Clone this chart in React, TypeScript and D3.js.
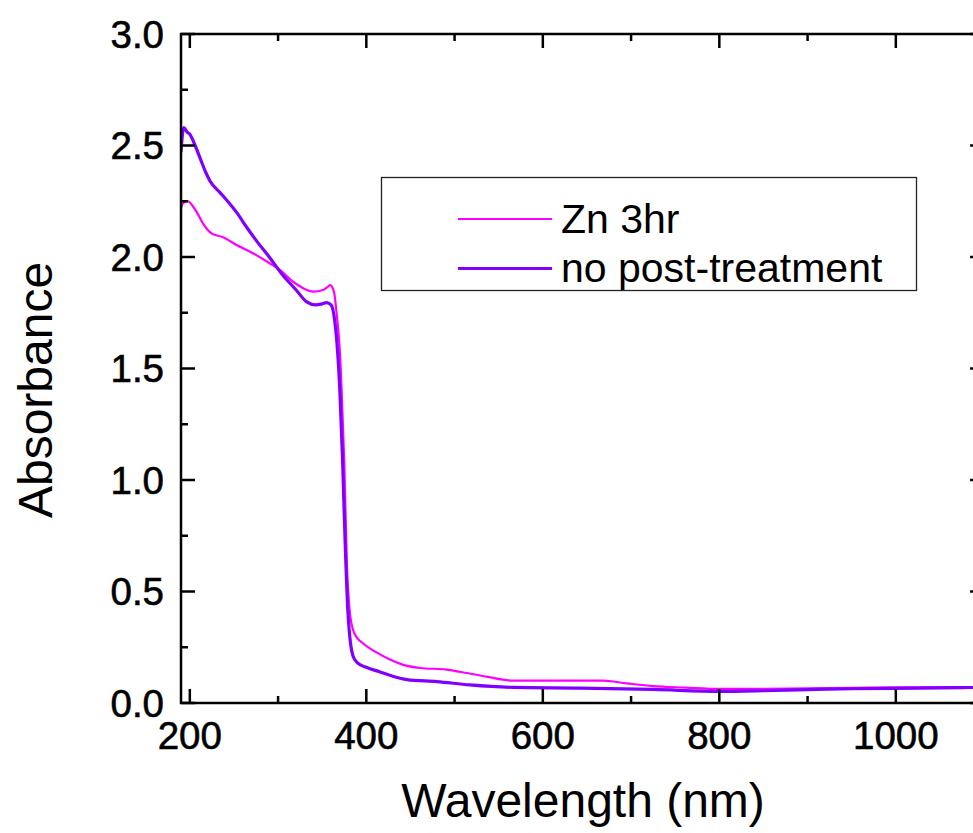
import React from "react";
import * as d3 from "d3";

const xTicksMajor = [200, 400, 600, 800, 1000];
const xTicksMinor = [300, 500, 700, 900, 1100];
const yTicksMajor = [0, 0.5, 1.0, 1.5, 2.0, 2.5, 3.0];
const yTicksMinor = [0.25, 0.75, 1.25, 1.75, 2.25, 2.75];

const seriesNames = ["Zn 3hr", "no post-treatment"];
const seriesColors = ["#FF00FF", "#8000FF"];

const znW = [190, 192, 198, 203, 208, 215, 225, 237, 253, 271, 290, 302, 317, 328, 340, 351, 356, 359, 362, 364, 366, 368, 370, 372, 375, 378, 381, 385, 390, 396, 404, 411, 425, 441, 461, 491, 506, 536, 567, 620, 668, 695, 725, 762, 800, 850, 900, 950, 1000, 1050, 1100];
const znA = [2.22, 2.24, 2.25, 2.23, 2.2, 2.15, 2.105, 2.09, 2.054, 2.018, 1.973, 1.942, 1.889, 1.861, 1.845, 1.852, 1.865, 1.874, 1.86, 1.83, 1.76, 1.68, 1.58, 1.4, 1.08, 0.62, 0.42, 0.327, 0.29, 0.268, 0.245, 0.228, 0.198, 0.172, 0.157, 0.15, 0.14, 0.118, 0.1, 0.1, 0.1, 0.088, 0.076, 0.069, 0.063, 0.064, 0.066, 0.068, 0.07, 0.071, 0.072];

const npW = [190, 193, 197, 200, 206, 212, 218, 223, 234, 245, 253, 265, 276, 290, 305, 321, 332, 343, 350, 355, 360, 364, 367, 370, 373, 376, 379, 382, 385, 390, 400, 415, 430, 446, 480, 517, 566, 642, 725, 800, 850, 900, 950, 1000, 1050, 1100];
const npA = [2.47, 2.58, 2.56, 2.55, 2.5, 2.44, 2.38, 2.34, 2.29, 2.24, 2.2, 2.13, 2.07, 2.0, 1.92, 1.85, 1.8, 1.785, 1.79, 1.795, 1.785, 1.72, 1.6, 1.4, 1.1, 0.72, 0.42, 0.27, 0.21, 0.18, 0.16, 0.14, 0.12, 0.105, 0.096, 0.081, 0.07, 0.067, 0.061, 0.052, 0.055, 0.06, 0.064, 0.066, 0.068, 0.07];

const W = 973;
const H = 833;
const L = 181, T = 34, B = 703;
const R = 181 + 910 * 0.8825;

export default function App() {
  const x = d3.scaleLinear().domain([190, 1100]).range([L, R]);
  const y = d3.scaleLinear().domain([0, 3]).range([B, T]);
  const line = d3
    .line<[number, number]>()
    .x((d) => x(d[0]))
    .y((d) => y(d[1]))
    .curve(d3.curveMonotoneX);
  const zn = znW.map((w, i) => [w, znA[i]] as [number, number]);
  const np = npW.map((w, i) => [w, npA[i]] as [number, number]);
  const font = "'Liberation Sans', Arial, sans-serif";
  const major = 14, minor = 7;
  return (
    <svg
      width={W}
      height={H}
      style={{ position: "absolute", left: 0, top: 0, background: "#fff" }}
      fontFamily={font}
    >
      <defs>
        <clipPath id="plot">
          <rect x={L} y={T} width={R - L} height={B - T} />
        </clipPath>
      </defs>
      <g clipPath="url(#plot)">
        <path d={line(zn) || ""} fill="none" stroke={seriesColors[0]} strokeWidth={2.2} />
        <path d={line(np) || ""} fill="none" stroke={seriesColors[1]} strokeWidth={3.2} />
      </g>
      <g stroke="#000" strokeWidth={2.5}>
        {xTicksMajor.map((t) => (
          <g key={"xM" + t}>
            <line x1={x(t)} x2={x(t)} y1={B} y2={B - major} />
            <line x1={x(t)} x2={x(t)} y1={T} y2={T + major} />
          </g>
        ))}
        {xTicksMinor.map((t) => (
          <g key={"xm" + t}>
            <line x1={x(t)} x2={x(t)} y1={B} y2={B - minor} />
            <line x1={x(t)} x2={x(t)} y1={T} y2={T + minor} />
          </g>
        ))}
        {yTicksMajor.map((t) => (
          <g key={"yM" + t}>
            <line x1={L} x2={L + major} y1={y(t)} y2={y(t)} />
            <line x1={R} x2={R - major} y1={y(t)} y2={y(t)} />
          </g>
        ))}
        {yTicksMinor.map((t) => (
          <g key={"ym" + t}>
            <line x1={L} x2={L + minor} y1={y(t)} y2={y(t)} />
            <line x1={R} x2={R - minor} y1={y(t)} y2={y(t)} />
          </g>
        ))}
      </g>
      <rect x={L} y={T} width={R - L} height={B - T} fill="none" stroke="#000" strokeWidth={2.5} />
      <g fontSize={38.5} fill="#000" stroke="#000" strokeWidth={0.6}>
        {xTicksMajor.map((t) => (
          <text key={"xl" + t} x={x(t)} y={749} textAnchor="middle">
            {t}
          </text>
        ))}
        {yTicksMajor.map((t) => (
          <text key={"yl" + t} x={164} y={y(t) + 13.5} textAnchor="end">
            {t.toFixed(1)}
          </text>
        ))}
      </g>
      <text x={583} y={817} textAnchor="middle" fontSize={48}>
        Wavelength (nm)
      </text>
      <text
        transform={`translate(52,390) rotate(-90)`}
        textAnchor="middle"
        fontSize={48}
      >
        Absorbance
      </text>
      <rect x={381.5} y={177.5} width={535} height={113} fill="#fff" stroke="#222" strokeWidth={1.3} />
      {seriesNames.map((n, i) => (
        <g key={n}>
          <line
            x1={458}
            x2={552}
            y1={219 + i * 49.5}
            y2={219 + i * 49.5}
            stroke={seriesColors[i]}
            strokeWidth={i === 0 ? 2.2 : 3.2}
          />
          <text x={561} y={232.5 + i * 49.5} fontSize={41} fill="#000">
            {n}
          </text>
        </g>
      ))}
    </svg>
  );
}
